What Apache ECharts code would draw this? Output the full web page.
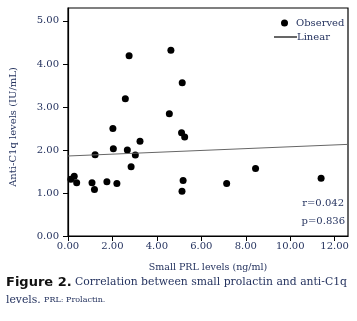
<!DOCTYPE html>
<html><head><meta charset="utf-8">
<script src="https://cdn.jsdelivr.net/npm/echarts@6/dist/echarts.min.js"></script>
<style>html,body{margin:0;padding:0;background:#fff}#c{width:357px;height:321px}</style>
</head><body><div id="c"></div>
<script>
const prlValues = [2.75,4.63,2.58,4.56,5.14,2.02,1.22,2.04,2.67,3.03,3.24,2.84,0.13,0.28,0.39,1.08,1.19,1.75,2.20,5.11,5.25,5.18,5.13,7.14,8.44,11.39];
const c1qValues = [4.19,4.32,3.19,2.84,3.56,2.50,1.89,2.03,2.00,1.88,2.20,1.61,1.32,1.39,1.24,1.24,1.08,1.26,1.22,2.40,2.30,1.29,1.04,1.22,1.57,1.34];
const fitX = [0, 12.6];
const fitY = [1.86, 2.13];
const xTicks = [0,2,4,6,8,10,12];
const yTicks = [0,1,2,3,4,5];
const seriesNames = ['Observed','Linear'];
const stats = ['r=0.042','p=0.836'];

const txt = '#25335f';
const serif = 'DejaVu Serif';
const chart = echarts.init(document.getElementById('c'));
chart.setOption({
  animation:false,
  grid:{left:67.7, right:9, top:8, bottom:85, show:true, borderColor:'#000', borderWidth:1.2},
  xAxis:{type:'value', min:0, max:12.6,
    axisLine:{lineStyle:{color:'#000',width:1.2}},
    axisTick:{show:true, length:5, customValues:xTicks, lineStyle:{color:'#000'}},
    axisLabel:{customValues:xTicks, formatter:v=>v.toFixed(2), color:txt, fontFamily:serif, fontSize:10, margin:5},
    splitLine:{show:false},
    name:'Small PRL levels (ng/ml)', nameLocation:'middle', nameGap:27,
    nameTextStyle:{color:txt, fontFamily:serif, fontSize:9.5}},
  yAxis:{type:'value', min:0, max:5.3,
    axisLine:{lineStyle:{color:'#000',width:1.2}},
    axisTick:{show:true, length:5, customValues:yTicks, lineStyle:{color:'#000'}},
    axisLabel:{customValues:yTicks, formatter:v=>v.toFixed(2), color:txt, fontFamily:serif, fontSize:10, margin:9},
    splitLine:{show:false},
    name:'Anti-C1q levels (IU/mL)', nameLocation:'middle', nameGap:50, nameRotate:90,
    nameTextStyle:{color:txt, fontFamily:serif, fontSize:10, padding:[0,0,0,-10]}},
  legend:[
    {data:[{name:seriesNames[0], icon:'circle', itemStyle:{color:'#000', opacity:1}}], left:276, top:13, itemWidth:7, itemHeight:7, itemGap:0,
     textStyle:{color:txt, fontFamily:serif, fontSize:10, padding:[0,0,0,3]}},
    {data:[{name:seriesNames[1], icon:'rect', itemStyle:{color:'#000', borderWidth:0}, lineStyle:{color:'#000'}}], left:269, top:27, itemWidth:23, itemHeight:1.2, itemGap:0,
     itemStyle:{color:'#000'}, lineStyle:{color:'#000'},
     textStyle:{color:txt, fontFamily:serif, fontSize:10, padding:[0,0,0,-5]}}
  ],
  series:[
    {name:seriesNames[0], type:'scatter', symbol:'circle', symbolSize:7, itemStyle:{color:'#000', opacity:1},
     data:prlValues.map((x,i)=>[x,c1qValues[i]])},
    {name:seriesNames[1], type:'line', showSymbol:false, symbol:'none', itemStyle:{color:'#000'},
     lineStyle:{color:'#666', width:1}, data:fitX.map((x,i)=>[x,fitY[i]])}
  ],
  graphic:[
    {type:'text', right:13, top:198, style:{text:stats[0], fill:txt, font:'10px "DejaVu Serif"'}},
    {type:'text', right:12, top:216, style:{text:stats[1], fill:txt, font:'10px "DejaVu Serif"'}},
    {type:'text', left:6, top:276, style:{rich:{b:{font:'bold 13px "DejaVu Sans"', fill:'#111'}, n:{font:'10.8px "DejaVu Serif"', fill:txt}}, text:'{b|Figure 2.}{n| Correlation between small prolactin and anti-C1q}'}},
    {type:'text', left:6, top:294, style:{rich:{n:{font:'10.8px "DejaVu Serif"', fill:txt}, s:{font:'8px "DejaVu Serif"', fill:txt}}, text:'{n|levels.} {s|PRL: Prolactin.}'}}
  ]
});
</script></body></html>
